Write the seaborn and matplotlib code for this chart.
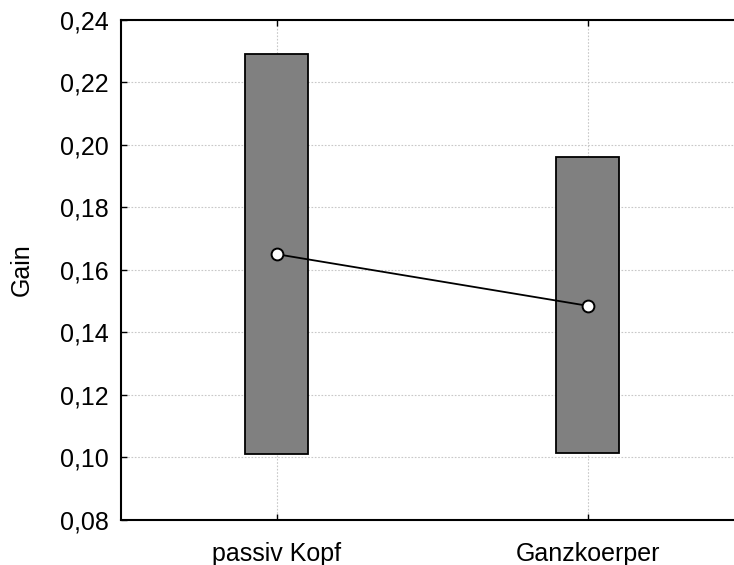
import numpy as np
import seaborn as sns
import matplotlib.pyplot as plt
from matplotlib.ticker import FuncFormatter

# values
conditions = ["passiv Kopf", "Ganzkoerper"]
gain_low = [0.101, 0.1014]
gain_high = [0.229, 0.196]
gain_mean = [0.165, 0.1485]

sns.set_style("white")
plt.rcParams["font.family"] = ["Liberation Sans", "DejaVu Sans"]

fig = plt.figure(figsize=(7.34, 5.65), dpi=100)
ax = fig.add_axes([0.1649, 0.0796, 0.8474, 0.8858])

span = np.array(gain_high) - np.array(gain_low)
sns.barplot(x=conditions, y=span, bottom=gain_low, color="#808080",
            saturation=1, width=0.2, edgecolor="black", linewidth=1.3,
            ax=ax, zorder=2)
sns.pointplot(x=conditions, y=gain_mean, color="black", markers="o",
              markersize=8.5, linewidth=1.3, markerfacecolor="white",
              markeredgewidth=1.4, ax=ax, zorder=3)

ax.set_xlim(-0.5, 1.5)
ax.set_ylim(0.08, 0.24)
ax.set_yticks(np.arange(0.08, 0.2401, 0.02))
ax.yaxis.set_major_formatter(FuncFormatter(lambda v, p: f"{v:.2f}".replace(".", ",")))
ax.grid(True, color="#c8c8c8", linestyle=(0, (1.5, 1.5)), linewidth=0.8, zorder=0)
ax.set_axisbelow(True)

for s in ax.spines.values():
    s.set_color("black")
    s.set_linewidth(1.5)

ax.tick_params(axis="both", direction="in", length=4, width=1, colors="black",
               labelsize=18, top=True, bottom=True, left=True, right=False)
ax.tick_params(axis="y", pad=9)
ax.tick_params(axis="x", pad=16)
ax.set_ylabel("Gain", fontsize=18, labelpad=19, color="black")
ax.set_xlabel("")

fig.savefig("out.png", dpi=100)
